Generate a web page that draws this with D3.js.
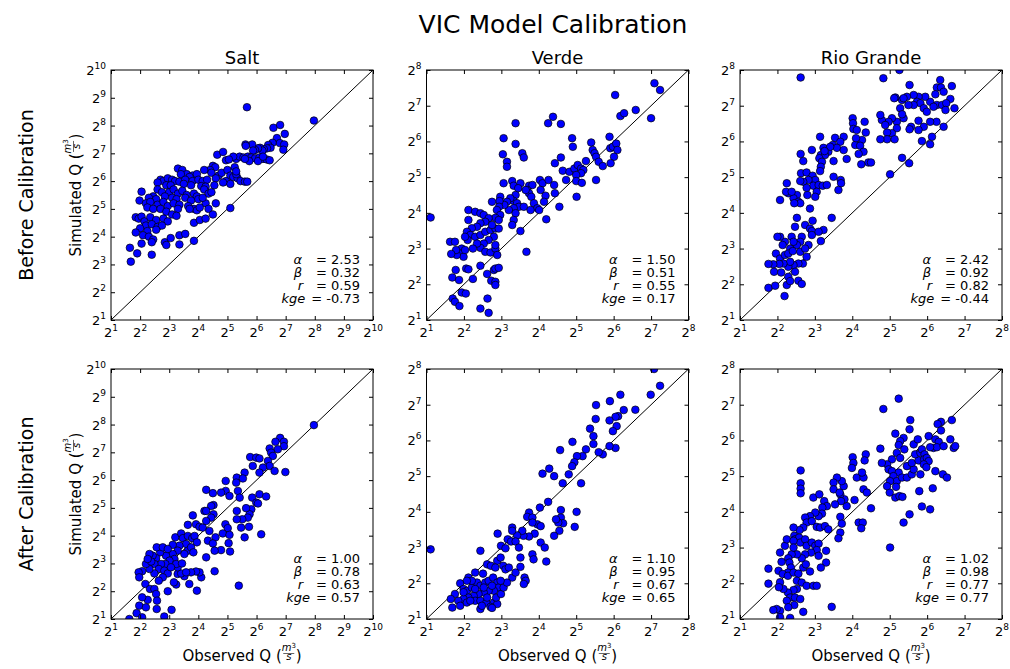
<!DOCTYPE html>
<meta charset="utf-8">
<style>
  body { margin: 0; background: #fff; }
  text { font-family: "DejaVu Sans", sans-serif; fill: #000; }
</style>
<div id="chart"></div>
<script src="https://cdn.jsdelivr.net/npm/d3@7/dist/d3.min.js"></script>
<script>
// points are [log2 observed Q, log2 simulated Q]
var saltBefore = [
  [5.67,8.66],[7.97,8.18],[6.58,7.92],[6.81,8.02],[6.97,7.70],[6.70,7.55],[6.80,7.37],[6.95,7.32],[6.92,7.13],[6.55,7.38],
  [6.40,7.30],[6.48,7.20],[6.36,7.18],[6.25,7.15],[6.12,7.20],[6.20,7.10],[6.05,7.18],[5.95,7.12],[5.85,7.32],[5.88,7.10],
  [5.62,7.32],[5.63,7.27],[5.30,6.80],[5.42,6.88],[5.55,6.85],[5.70,6.88],[5.82,6.85],[5.95,6.82],[6.10,6.85],[6.22,6.80],
  [6.35,6.78],[6.45,6.75],[6.05,6.72],[5.75,6.72],[5.60,6.80],[5.20,6.88],[4.95,6.75],[5.05,6.78],[6.22,6.88],
  [4.65,6.95],[4.85,7.05],[4.50,6.55],[4.58,6.50],[4.40,6.40],[4.20,6.40],[4.45,6.30],[4.70,6.20],[4.80,6.30],[5.00,6.40],
  [5.10,6.20],[4.95,6.00],[5.20,6.15],[5.35,6.10],[5.30,6.25],[5.10,5.90],[4.85,5.95],[5.45,6.00],[5.60,5.98],[5.68,5.98],
  [4.60,6.10],[4.55,5.85],[5.25,6.50],[5.30,6.35],
  [3.30,6.45],[3.45,6.40],[3.60,6.25],[3.80,6.20],[3.95,6.25],[3.70,6.15],[3.40,6.25],
  [2.70,6.05],[2.80,6.00],[2.95,6.10],[3.10,6.05],[3.20,6.00],[3.35,5.98],[3.55,6.05],[3.80,6.00],[4.00,6.05],[4.15,6.00],
  [4.30,6.05],[2.60,5.95],[2.90,5.85],[3.05,5.85],[3.50,5.90],[3.75,5.85],[4.10,5.82],[4.25,5.80],
  [2.60,5.70],[2.75,5.60],[3.00,5.60],[3.15,5.70],[3.30,5.55],[3.45,5.65],[3.60,5.50],[3.85,5.55],[3.95,5.45],[4.20,5.70],
  [4.35,5.55],[2.05,5.62],[2.45,5.45],[2.30,5.40],[2.55,5.35],[2.85,5.45],[3.10,5.40],[3.25,5.35],[3.55,5.40],[3.75,5.30],
  [4.00,5.35],[4.25,5.20],[4.45,5.60],[4.15,5.40],
  [1.98,5.30],[2.20,5.20],[2.35,5.25],[2.60,5.15],[2.80,5.25],[2.95,5.10],[3.15,5.20],[3.35,5.15],[3.65,5.10],[3.85,5.00],
  [3.95,4.95],[3.70,5.00],[4.05,5.05],[2.25,5.05],[2.45,5.00],[2.70,5.00],[2.90,4.90],[3.10,4.80],[3.30,5.00],[4.60,5.20],
  [4.35,5.00],
  [1.85,4.70],[1.95,4.65],[2.05,4.72],[2.15,4.55],[2.35,4.70],[2.55,4.60],[2.80,4.65],[2.95,4.55],[3.25,4.75],[2.20,4.40],
  [2.40,4.45],[2.60,4.35],[2.75,4.40],[3.85,4.50],[4.05,4.60],[4.25,4.65],[4.50,4.80],[5.10,5.03],[2.00,4.30],[2.25,4.20],
  [1.85,4.15],[2.10,4.05],[2.30,4.00],[2.45,3.90],[2.55,4.25],[2.85,3.80],[2.90,3.70],[3.05,3.95],[3.35,4.05],[3.55,4.10],
  [3.85,3.85],[2.05,3.75],[2.40,3.80],[3.35,3.72],
  [1.65,3.60],[1.68,3.10],[1.90,3.40],[2.40,3.35]
];
var verdeBefore = [
  [1.11,3.87],[7.09,7.63],[7.24,7.44],[6.04,7.30],[6.18,6.71],[6.28,6.79],[6.59,6.88],[7.00,6.65],
  [4.38,6.69],[4.25,6.51],[4.59,6.49],[3.38,6.51],
  [3.06,6.09],[3.38,5.93],[3.04,5.64],[3.15,5.43],[3.15,5.29],[3.56,5.67],[3.60,5.55],
  [4.89,6.09],[4.91,5.85],[4.59,5.55],[4.43,5.39],
  [5.40,5.97],[5.44,5.76],[5.49,5.67],[5.53,5.57],[5.89,6.13],[5.91,5.81],[5.98,5.85],[6.07,5.94],[6.10,5.76],[6.01,5.57],
  [5.92,5.39],[5.60,5.43],[5.71,5.31],
  [4.64,5.18],[4.82,5.15],[4.95,5.24],[5.04,5.34],[5.13,5.24],[5.19,5.20],[5.26,5.45],[5.13,5.11],[5.00,5.06],
  [4.73,4.92],[5.00,4.89],[5.15,4.84],[5.53,4.92],[5.01,4.45],[4.55,4.17],
  [4.03,4.92],[4.10,4.83],[4.26,4.92],[4.05,4.64],[4.18,4.48],[4.14,4.31],[4.20,3.82],[4.41,4.78],[4.43,4.55],
  [3.06,4.83],[3.29,4.89],[3.33,4.76],[3.51,4.83],[3.74,4.76],[3.83,4.78],[3.69,4.64],[3.74,4.55],[3.80,4.45],[3.87,4.27],
  [3.96,4.13],[3.38,4.50],[3.32,4.34],[3.24,4.41],[3.42,4.27],[3.47,4.17],[3.33,4.13],[3.60,4.17],[3.78,4.08],[4.01,4.08],
  [3.15,4.31],[3.20,4.08],[3.08,4.22],[3.45,4.69],[3.65,4.64],
  [2.97,4.45],[2.95,4.33],[2.94,4.17],[2.88,4.08],[2.97,3.94],[2.84,3.86],[2.75,4.31],
  [3.38,3.99],[3.33,3.80],[3.29,3.66],[3.51,3.49],[3.67,2.91],
  [2.12,4.08],[2.30,4.03],[2.44,3.99],[2.53,3.94],[2.66,3.85],[2.57,3.75],[2.44,3.71],[2.35,3.61],[2.21,3.57],[2.12,3.80],
  [2.08,3.47],[2.17,3.38],[2.30,3.33],[2.44,3.38],[2.57,3.47],[2.71,3.52],[2.84,3.56],[2.80,3.33],[2.66,3.24],[2.53,3.14],
  [2.44,3.02],[2.57,2.91],[2.71,2.89],[2.84,3.00],[2.89,2.82],[2.84,3.10],[2.35,3.14],[2.24,3.00],[2.10,3.24],[2.03,3.33],
  [1.94,3.00],[1.90,2.86],[1.99,2.77],[1.81,2.82],[1.79,2.96],[2.03,2.96],[1.63,3.19],[1.76,3.19],[1.66,2.85],
  [2.93,3.80],[2.93,3.56],[2.75,3.66],
  [1.78,2.40],[2.06,2.44],[2.12,2.42],[1.69,2.19],[1.87,2.12],[2.24,2.15],[2.44,2.52],[2.62,2.29],[2.80,2.40],[2.84,2.44],
  [2.93,2.46],[2.73,2.10],[2.84,2.07],[2.84,1.98],[1.94,1.77],[2.05,1.74],[1.70,1.60],[1.76,1.51],[1.88,1.39],[2.44,1.32],
  [2.66,1.20],[2.63,1.60]
];
var rioBefore = [
  [2.62,7.79],[4.83,7.77],[5.26,8.00],
  [5.53,7.58],[6.35,7.72],[6.26,7.51],[6.37,7.51],[6.66,7.55],[6.22,7.32],[6.44,7.39],[6.62,7.19],[6.73,6.93],[6.26,7.02],
  [6.08,7.11],[5.95,7.25],[5.77,7.25],[5.64,7.30],[5.46,7.25],[5.33,7.16],[5.37,7.21],[5.15,7.23],[5.12,7.21],[5.73,7.11],
  [5.82,7.07],[5.64,7.02],[5.50,7.02],[5.28,6.93],[5.91,6.93],[5.99,6.83],[6.17,6.97],[6.40,7.02],[6.51,7.07],[6.49,6.88],
  [6.25,6.55],[6.08,6.55],[5.77,6.58],[5.91,6.41],[5.57,6.41],[5.77,6.32],[5.53,6.34],[5.37,6.65],[5.33,6.76],[5.19,6.55],
  [5.06,6.65],[4.97,6.55],[5.19,6.37],[5.06,6.23],[4.93,6.25],[4.79,6.60],[4.75,6.74],[4.88,6.46],[4.93,6.06],[4.75,6.06],
  [5.13,6.06],[5.86,6.01],[6.13,6.13],[6.08,5.92],[6.44,6.41],[5.33,5.54],[5.52,5.39],[5.01,5.08],
  [4.01,6.65],[4.02,6.51],[4.03,6.35],[4.12,6.32],[4.33,6.55],[4.36,6.25],[4.08,5.90],[4.26,6.04],[4.21,5.88],[4.30,5.71],
  [4.17,5.65],[4.43,5.41],[4.50,5.41],[4.24,5.36],[4.10,6.09],
  [3.14,6.13],[3.54,6.10],[3.77,6.13],[3.68,5.99],[3.48,5.90],[3.59,5.82],[3.77,5.76],[3.36,5.71],[3.23,5.82],[3.41,5.85],
  [3.16,5.62],[3.27,5.62],[3.12,5.53],[3.19,5.43],[3.16,5.29],[3.14,5.17],[3.26,5.73],[3.50,5.45],[3.85,5.51],[2.92,5.76],
  [2.62,5.65],[2.69,5.45],[2.63,5.11],[2.78,5.13],[2.94,5.04],[3.01,4.92],[2.83,4.92],[2.69,4.87],[2.61,4.89],[2.96,4.76],
  [3.10,4.78],[3.05,4.59],[3.21,4.76],[3.32,4.78],[3.01,4.45],[2.80,4.50],[3.50,5.01],[3.69,4.92],[3.70,4.83],[3.63,4.64],
  [2.78,4.70],[2.52,4.50],[2.43,4.41],[2.29,4.55],[2.23,4.59],[2.07,4.36],[2.38,4.59],[2.56,4.31],[2.61,4.27],[2.45,4.27],
  [2.25,4.83],
  [2.87,4.12],[2.52,3.86],[2.47,3.61],[2.74,3.66],[2.87,3.56],[2.94,3.78],[2.92,3.49],[2.92,3.38],[3.23,3.52],[3.10,3.47],
  [3.45,3.86],[3.16,3.21],[2.83,3.10],[2.65,3.33],[2.61,3.19],[2.52,3.10],[2.38,3.33],[2.43,3.19],[2.34,3.00],[2.20,3.19],
  [2.07,3.33],[2.00,3.33],[2.14,3.10],[1.96,2.86],[2.07,2.72],[2.20,2.82],[2.29,2.86],[2.41,2.93],[2.61,2.91],[2.74,3.00],
  [2.78,2.77],[2.68,2.58],[2.56,2.58],[2.43,2.54],[2.29,2.49],[2.34,2.63],[2.16,2.58],[2.05,2.57],[1.89,2.56],[1.76,2.57],
  [1.91,2.35],[2.10,2.33],[2.47,2.35],[2.29,2.21],[2.25,1.98],[2.34,2.09],[2.56,2.10],[2.65,2.01],[1.76,1.90],[1.94,1.96],
  [2.19,1.67]
];
var saltAfter = [
  [7.97,7.98],
  [6.81,7.52],[6.65,7.38],[6.94,7.38],[6.94,7.22],[6.73,7.11],[6.45,7.14],[6.50,6.99],[6.56,6.87],[6.39,6.69],[6.45,6.51],
  [6.62,6.33],[6.99,6.29],[6.22,6.45],[6.10,6.27],[5.78,6.83],[5.99,6.81],[6.10,6.78],[5.87,6.51],[5.59,6.27],[5.32,6.09],
  [5.53,6.06],[4.94,5.97],[5.30,5.91],[4.94,5.61],[5.07,5.43],[5.36,5.61],[5.42,5.37],[5.85,5.37],[6.10,5.49],[6.33,5.41],
  [5.99,5.19],[6.05,5.16],[5.82,4.95],[5.76,4.77],[5.70,4.65],[5.51,4.59],[5.64,4.99],[5.32,4.89],[5.32,4.59],[5.47,4.29],
  [5.59,3.94],[5.74,4.32],[6.16,4.05],[5.39,2.20],
  [4.27,5.65],[4.50,5.53],[4.78,5.55],[4.52,5.10],[4.44,5.07],[4.21,4.89],[4.27,4.89],[3.81,4.73],[4.52,4.77],[4.44,4.65],
  [4.93,4.41],[5.01,4.27],[4.84,4.08],[5.07,4.03],[5.04,3.73],[5.09,3.43],
  [3.64,4.39],[3.92,4.41],[4.04,4.32],[4.15,4.29],[4.27,4.53],[4.38,4.17],[4.59,3.94],[4.33,3.82],[4.50,3.72],[4.78,3.48],
  [4.56,3.46],[4.27,3.22],[4.56,2.72],[4.10,2.50],[4.04,2.68],[3.92,2.71],[3.75,2.68],[3.69,2.26],[3.95,2.02],[3.52,2.54],
  [3.24,2.24],
  [3.21,3.94],[3.41,4.08],[3.47,3.91],[3.64,3.99],[3.79,3.91],[3.87,3.99],[3.95,3.76],[3.58,3.70],[3.35,3.64],[3.12,3.67],
  [3.64,3.46],[3.75,3.58],[3.83,3.40],[3.52,3.34],[3.29,3.46],[3.12,3.34],[2.89,3.28],[2.69,3.40],[2.57,3.58],[2.78,3.58],
  [2.95,3.52],[3.18,3.16],[3.01,3.10],[2.87,2.98],[2.72,2.98],[2.55,3.19],[2.43,3.28],[2.32,3.34],[2.49,2.98],[2.64,2.80],
  [2.83,2.74],[2.95,2.64],[2.78,2.50],[2.64,2.38],[2.49,2.64],[2.32,2.80],[2.20,2.98],[2.38,3.07],[2.26,3.16],[2.07,2.72],
  [1.95,2.68],[1.97,2.50],[2.18,2.26],[2.34,2.08],[2.49,2.08],[2.55,1.90],[2.58,1.66],[2.26,1.69],[2.07,1.78],[1.97,1.48],
  [2.20,1.42],[1.88,1.21],[1.63,1.00],[2.07,1.06],[2.57,1.36],[2.83,1.09],[3.08,1.33],[2.95,2.00],[3.16,2.32],[3.29,2.62],
  [3.41,2.64],[3.58,2.68],[3.29,2.86],[3.24,2.98],[3.44,3.00],[3.06,2.86]
];
var verdeAfter = [
  [7.08,8.00],[7.24,7.53],[6.99,7.28],[6.18,7.28],[5.90,7.10],[6.27,6.85],[6.58,6.86],[6.12,6.68],[6.05,6.66],[5.89,6.56],
  [6.08,6.40],[5.98,6.26],[6.05,5.79],[5.89,5.84],[5.71,5.61],[5.60,5.67],[5.53,6.99],[5.52,6.60],[5.37,6.33],[5.46,6.12],
  [5.46,5.90],[5.26,5.75],[5.17,5.56],[5.02,5.56],[4.90,5.96],[4.95,5.39],[4.89,5.28],[4.80,5.05],[4.64,4.80],[4.57,5.73],
  [4.41,5.00],[4.28,5.21],[4.10,5.07],[4.25,4.28],[4.03,4.12],[4.59,4.05],[4.59,3.84],[4.65,3.68],[4.52,3.70],[4.46,3.79],
  [4.55,3.47],[4.41,3.33],[5.01,4.00],[4.96,3.58],[5.13,4.80],
  [3.74,3.98],[3.69,3.86],[3.83,3.84],[3.96,3.65],[3.83,3.70],[4.05,3.60],[3.89,3.39],[3.74,3.31],[3.59,3.33],[3.56,3.47],
  [3.42,3.34],[3.29,3.56],[3.29,3.47],[2.90,3.39],[3.17,3.23],[2.99,3.05],[3.11,2.98],[3.26,3.17],[3.38,3.17],[3.47,3.00],
  [3.51,2.72],[3.83,2.81],[3.86,2.67],[4.05,3.14],[4.16,3.00],[4.20,2.61],[2.44,2.91],[1.11,2.95],
  [2.62,2.53],[2.72,2.49],[2.89,2.63],[2.84,2.44],[2.98,2.72],[3.05,2.49],[3.11,2.39],[3.20,2.44],[3.29,2.16],[3.38,2.30],
  [3.51,2.46],[3.62,2.16],[3.65,2.07],[3.60,1.98],[2.51,2.27],[2.30,2.30],[2.12,2.16],[1.90,2.00],[1.99,1.84],[2.08,1.79],
  [2.21,1.88],[2.35,2.02],[2.44,1.93],[2.57,2.02],[2.66,2.07],[2.78,2.16],[2.89,2.02],[2.93,1.88],[2.80,1.79],[2.66,1.79],
  [2.53,1.74],[2.39,1.70],[2.26,1.65],[2.12,1.60],[1.99,1.56],[1.85,1.51],[1.76,1.70],[1.65,1.56],[1.69,1.32],[1.90,1.37],
  [2.08,1.46],[2.30,1.51],[2.44,1.51],[2.60,1.46],[2.80,1.46],[2.89,1.42],[2.71,1.34],[2.44,1.28],[2.48,1.37],[2.75,1.31],
  [2.86,1.60],[2.99,1.70],[3.06,1.88],[3.15,2.02],[2.98,2.07],[2.21,2.07],[2.08,2.07],[1.99,1.75],[2.17,1.51],[2.62,1.60],
  [2.53,1.88],[2.30,1.84],[2.75,1.93]
];
var rioAfter = [
  [5.24,7.17],[4.83,6.88],
  [5.55,6.57],[5.15,6.19],[5.53,6.31],[5.37,6.07],[5.28,5.98],[5.24,5.87],[5.39,5.75],[5.19,5.65],[5.28,5.51],[5.06,5.47],
  [4.93,5.33],[4.75,5.77],[4.79,5.37],[4.97,5.19],[5.06,5.14],[5.24,5.10],[5.10,5.00],[5.19,4.86],[5.01,4.86],[5.33,4.96],
  [5.46,4.96],[5.59,5.05],[5.64,5.19],[5.46,5.28],[5.59,5.37],[5.77,5.44],[5.68,5.61],[5.82,5.65],[5.64,5.89],[5.75,6.03],
  [5.86,5.75],[5.93,5.61],[5.92,5.47],[5.99,5.51],[6.04,5.42],[5.91,5.33],[5.98,5.25],[5.82,5.05],[5.79,4.58],[5.86,4.15],
  [6.08,4.07],[6.15,4.66],[6.22,5.14],[6.04,6.12],[6.22,6.03],[6.31,5.96],[6.17,5.79],[6.26,5.81],[6.08,5.81],[6.37,6.52],
  [6.28,6.46],[6.37,6.28],[6.44,5.84],[6.62,6.03],[6.66,6.57],[6.71,5.79],[6.75,5.84],[6.42,5.05],[6.53,4.96],[5.00,4.54],
  [5.01,3.00],[5.15,4.40],[5.26,4.44],[5.34,4.42],[5.37,3.70],[5.53,3.93],[4.93,4.72],[5.17,4.70],
  [4.01,5.53],[4.03,5.37],[3.99,5.23],[4.06,4.33],[4.12,4.96],[4.30,4.96],[4.26,5.10],[4.30,4.63],[4.36,5.61],[4.33,5.44],
  [4.39,4.54],[4.50,4.10],[4.17,3.70],[4.28,3.70],[4.24,3.54],[3.85,4.16],[3.79,4.35],[3.68,4.49],[3.77,4.72],[3.72,4.86],
  [3.59,4.96],[3.50,4.82],[3.50,4.63],[3.66,4.54],[3.70,4.30],[3.54,4.21],[3.68,3.86],[3.72,3.67],[3.68,3.42],[3.63,3.26],
  [3.45,1.34],
  [2.62,5.16],[2.62,4.80],[2.62,4.65],[2.62,4.52],
  [2.96,4.40],[3.12,4.49],[3.25,4.30],[3.32,4.16],[3.20,4.12],[3.19,3.95],[3.10,3.88],[3.01,3.98],[2.87,3.88],[2.74,3.84],
  [2.78,3.70],[2.92,3.74],[3.05,3.58],[3.14,3.56],[3.27,3.60],[3.36,3.51],[2.69,3.56],[2.59,3.49],[2.43,3.56],[2.45,3.33],
  [2.47,3.23],[2.58,3.28],[2.61,3.14],[2.74,3.23],[2.78,3.05],[2.92,3.14],[3.01,3.05],[3.10,3.11],[3.05,2.93],[3.10,2.77],
  [2.90,2.86],[2.74,2.81],[2.65,2.70],[2.52,2.81],[2.38,2.81],[2.29,2.70],[2.32,2.58],[2.36,2.44],[2.28,2.30],[2.11,2.60],
  [2.03,2.35],[2.14,2.26],[2.28,2.21],[2.43,2.30],[2.56,2.27],[2.52,2.07],[2.65,2.02],[2.78,1.93],[2.96,1.93],[3.05,1.93],
  [3.30,2.58],[3.16,2.44],[3.30,2.91],[2.87,2.33],[2.69,2.44],[2.76,2.53],[2.52,1.84],[2.43,1.81],[2.28,1.74],[2.16,1.84],
  [2.07,2.03],[2.04,1.89],[2.34,1.60],[2.25,1.51],[2.47,1.60],[2.61,1.56],[2.69,1.20],[2.45,1.39],[2.29,1.33],[2.07,1.23],
  [1.98,1.28],[1.89,1.25],[2.07,1.05],[2.34,1.03],[1.76,2.41],[1.76,1.99],[2.07,2.86],[2.20,3.05],[2.25,3.23],[2.43,3.19],
  [2.43,3.00]
];

var rivers = ["Salt", "Verde", "Rio Grande"];
var rowNames = ["Before Calibration", "After Calibration"];
var maxExp = [10, 8, 8];           // axes run from 2^1 to 2^maxExp
var statSymbols = ["α", "β", "r", "kge"];
var statsBefore = [["2.53","0.32","0.59","-0.73"], ["1.50","0.51","0.55","0.17"], ["2.42","0.92","0.82","-0.44"]];
var statsAfter  = [["1.00","0.78","0.63","0.57"], ["1.10","0.95","0.67","0.65"], ["1.02","0.98","0.77","0.77"]];
var panelData = [[saltBefore, verdeBefore, rioBefore], [saltAfter, verdeAfter, rioAfter]];
var panelStats = [statsBefore, statsAfter];

var W = 1010, H = 669;
var lefts = [111, 426.5, 740], tops = [70, 369];
var pw = 262, ph = 250;
var symGap = [14, 14, 13, 6];

var svg = d3.select("#chart").append("svg").attr("width", W).attr("height", H);

svg.append("text").attr("x", 553).attr("y", 33).attr("text-anchor", "middle")
  .attr("font-size", 25).text("VIC Model Calibration");

// "<word> Q (m^3/s)" label with a small stacked fraction, centred on 0
function qLabel(parent, word) {
  var g = parent.append("g");
  var t = g.append("text").attr("font-size", 15).attr("x", 0).attr("y", 0).text(word + " Q (");
  var L1 = t.node().getComputedTextLength();
  var fx = L1 + 1.5, fw = 11;
  var num = g.append("text").attr("x", fx + fw / 2).attr("y", -10).attr("text-anchor", "middle")
    .attr("font-family", "Liberation Serif, serif").attr("font-style", "italic").attr("font-size", 10);
  num.append("tspan").text("m");
  num.append("tspan").attr("font-size", 7).attr("dy", -3.5).attr("font-style", "normal").text("3");
  g.append("line").attr("x1", fx).attr("x2", fx + fw).attr("y1", -7.5).attr("y2", -7.5)
    .attr("stroke", "#000").attr("stroke-width", 0.6);
  g.append("text").attr("x", fx + fw / 2).attr("y", -1).attr("text-anchor", "middle")
    .attr("font-family", "Liberation Serif, serif").attr("font-style", "italic").attr("font-size", 10).text("s");
  var cl = g.append("text").attr("x", fx + fw + 1.5).attr("y", 0).attr("font-size", 15).text(")");
  var total = fx + fw + 1.5 + cl.node().getComputedTextLength();
  g.attr("transform", "translate(" + (-total / 2) + ",0)");
}

function powLabel(sel, e) {
  sel.append("tspan").attr("font-size", 13).text("2");
  sel.append("tspan").attr("font-size", 9).attr("dy", -6).text(e);
}

rowNames.forEach(function(rn, r) {
  svg.append("g").attr("transform", "translate(33," + (tops[r] + ph / 2) + ") rotate(-90)")
    .append("text").attr("text-anchor", "middle").attr("font-size", 19).text(rn);
  qLabel(svg.append("g").attr("transform", "translate(81," + (tops[r] + ph / 2) + ") rotate(-90)"), "Simulated");

  rivers.forEach(function(rv, c) {
    var top = Math.pow(2, maxExp[c]);
    var x = d3.scaleLog().base(2).domain([2, top]).range([0, pw]);
    var y = d3.scaleLog().base(2).domain([2, top]).range([ph, 0]);
    var exps = d3.range(1, maxExp[c] + 1);
    var ticks = exps.map(function(e) { return Math.pow(2, e); });

    var g = svg.append("g").attr("transform", "translate(" + lefts[c] + "," + tops[r] + ")");
    var clipId = "clip" + r + c;
    g.append("clipPath").attr("id", clipId).append("rect").attr("width", pw).attr("height", ph);

    // 1:1 line
    g.append("line").attr("x1", x(2)).attr("y1", y(2)).attr("x2", x(top)).attr("y2", y(top))
      .attr("stroke", "#000").attr("stroke-width", 1);

    g.append("g").attr("clip-path", "url(#" + clipId + ")")
      .selectAll("circle").data(panelData[r][c]).enter().append("circle")
      .attr("cx", function(d) { return x(Math.pow(2, d[0])); })
      .attr("cy", function(d) { return y(Math.pow(2, d[1])); })
      .attr("r", 3.8)
      .attr("fill", "#0000ff").attr("stroke", "#000").attr("stroke-width", 0.7);

    // inward ticks on all four sides
    var axes = [
      [d3.axisBottom(x), "translate(0," + ph + ")"],
      [d3.axisTop(x), "translate(0,0)"],
      [d3.axisLeft(y), "translate(0,0)"],
      [d3.axisRight(y), "translate(" + pw + ",0)"]
    ];
    axes.forEach(function(a) {
      var ag = g.append("g").attr("transform", a[1])
        .call(a[0].tickValues(ticks).tickSizeInner(-4).tickSizeOuter(0).tickFormat(""));
      ag.select(".domain").remove();
      ag.selectAll(".tick line").attr("stroke", "#000");
    });

    g.append("rect").attr("width", pw).attr("height", ph)
      .attr("fill", "none").attr("stroke", "#000").attr("stroke-width", 1);

    // tick labels
    exps.forEach(function(e, i) {
      powLabel(g.append("text").attr("x", x(ticks[i])).attr("y", ph + 17).attr("text-anchor", "middle"), e);
      powLabel(g.append("text").attr("x", -5).attr("y", y(ticks[i]) + 5).attr("text-anchor", "end"), e);
    });

    // statistics box
    var st = panelStats[r][c];
    statSymbols.forEach(function(s, i) {
      var yy = ph - 56 + i * 13;
      var vt = g.append("text").attr("x", pw - 13).attr("y", yy).attr("text-anchor", "end")
        .attr("font-size", 13).text("= " + st[i]);
      var vw = vt.node().getComputedTextLength();
      g.append("text").attr("x", pw - 13 - vw - symGap[i]).attr("y", yy).attr("text-anchor", "end")
        .attr("font-family", "Liberation Serif, serif").attr("font-style", "italic")
        .attr("font-size", 13).attr("fill", "#222").text(s);
    });

    if (r === 0) {
      g.append("text").attr("x", pw / 2).attr("y", -6).attr("text-anchor", "middle")
        .attr("font-size", 18).text(rv);
    }
    if (r === 1) {
      qLabel(svg.append("g").attr("transform", "translate(" + (lefts[c] + pw / 2) + ",661)"), "Observed");
    }
  });
});
</script>
